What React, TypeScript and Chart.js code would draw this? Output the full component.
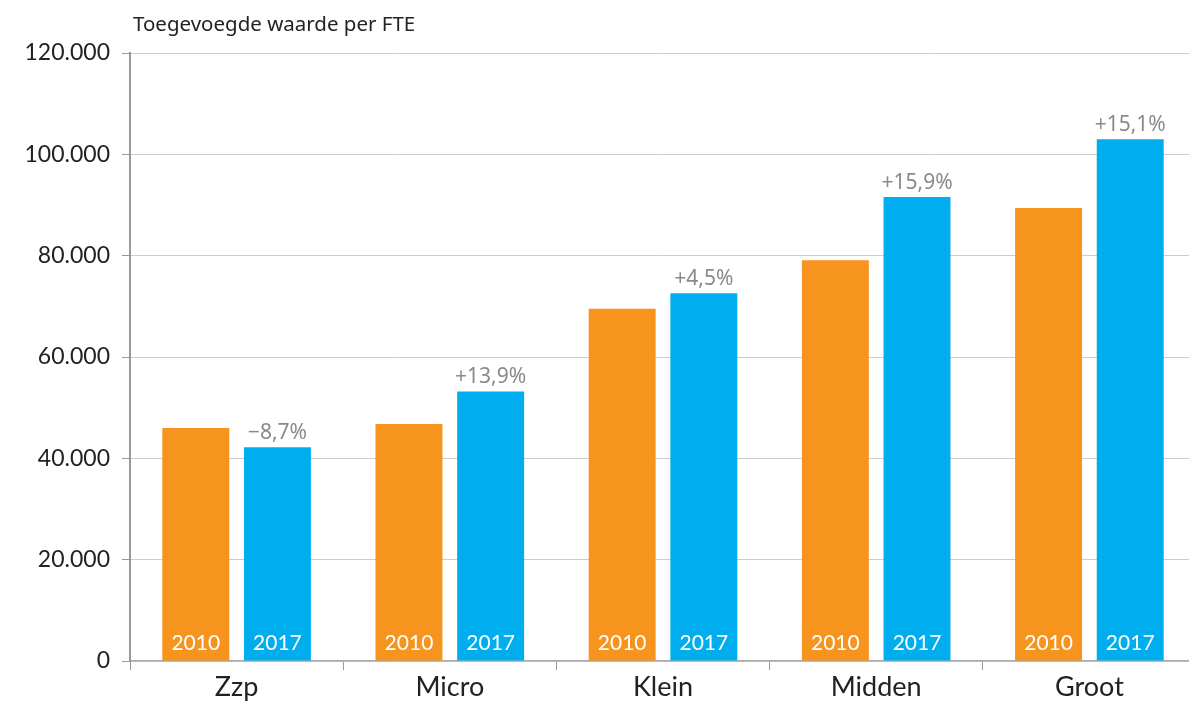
import React, { useEffect, useRef } from "react";
import { Chart, registerables } from "chart.js";

Chart.register(...registerables);

const categories = ["Zzp", "Micro", "Klein", "Midden", "Groot"];
const values2010 = [46000, 46800, 69500, 79100, 89400];
const values2017 = [42200, 53200, 72600, 91600, 103000];
const changeLabels = ["\u22128,7%", "+13,9%", "+4,5%", "+15,9%", "+15,1%"];
const yTicks = [0, 20000, 40000, 60000, 80000, 100000, 120000];
const titleText = "Toegevoegde waarde per FTE";

const fmt = (v: number) => String(v).replace(/\B(?=(\d{3})+(?!\d))/g, ".");

const labelPlugin = {
  id: "customLabels",
  afterDatasetsDraw(chart: any) {
    const ctx = chart.ctx;
    const area = chart.chartArea;
    ctx.save();
    // title
    ctx.font = "20.5px 'Noto Sans'";
    ctx.fillStyle = "#222";
    ctx.textAlign = "left";
    ctx.textBaseline = "alphabetic";
    ctx.fillText(titleText, area.left + 3, area.top - 22);
    // inner labels
    chart.data.datasets.forEach((ds: any, di: number) => {
      const meta = chart.getDatasetMeta(di);
      meta.data.forEach((bar: any, i: number) => {
        ctx.font = "21px Lato";
        ctx.fillStyle = "#fff";
        ctx.textAlign = "center";
        ctx.textBaseline = "alphabetic";
        ctx.fillText(ds.label, bar.x, area.bottom - 11);
        if (di === 1) {
          ctx.font = "21px 'Noto Sans'";
          ctx.fillStyle = "#8a8a8a";
          ctx.fillText(changeLabels[i], bar.x, bar.y - 8);
        }
      });
    });
    ctx.restore();
  },
};

export default function App() {
  const ref = useRef<HTMLCanvasElement>(null);
  useEffect(() => {
    document.body.style.margin = "0";
    const chart = new Chart(ref.current!, {
      type: "bar",
      data: {
        labels: categories,
        datasets: [
          { label: "2010", data: values2010, backgroundColor: "#F7941E" },
          { label: "2017", data: values2017, backgroundColor: "#00AEEF" },
        ],
      },
      options: {
        responsive: false,
        animation: false,
        layout: { padding: { top: 53, left: 0, right: 0, bottom: 0 } },
        plugins: { legend: { display: false }, tooltip: { enabled: false }, title: { display: false } },
        datasets: { bar: { categoryPercentage: 0.766, barPercentage: 0.82 } },
        scales: {
          x: {
            grid: { drawOnChartArea: false, drawTicks: true, tickLength: 9, color: "#999", offset: true },
            border: { color: "#aaa", width: 1.5 },
            ticks: { font: { family: "Lato", size: 27 }, color: "#222", padding: 1 },
            afterFit: (s: any) => { s.height = 41; },
          },
          y: {
            min: 0,
            max: 120000,
            afterBuildTicks: (s: any) => { s.ticks = yTicks.map((v) => ({ value: v })); },
            grid: { color: "#cccccc", lineWidth: 1, tickLength: 8, tickColor: "#999" },
            border: { color: "#999", width: 2 },
            ticks: {
              font: { family: "Lato", size: 23 },
              color: "#222",
              padding: 12,
              callback: (v: any) => fmt(Number(v)),
            },
            afterFit: (s: any) => { s.width = 130; },
          },
        },
      },
      plugins: [labelPlugin],
    });
    return () => chart.destroy();
  }, []);
  return (
    <div style={{ width: 1189, height: 702, overflow: "hidden", background: "#fff" }}>
      <canvas ref={ref} width={1196} height={702} style={{ display: "block" }} />
    </div>
  );
}
